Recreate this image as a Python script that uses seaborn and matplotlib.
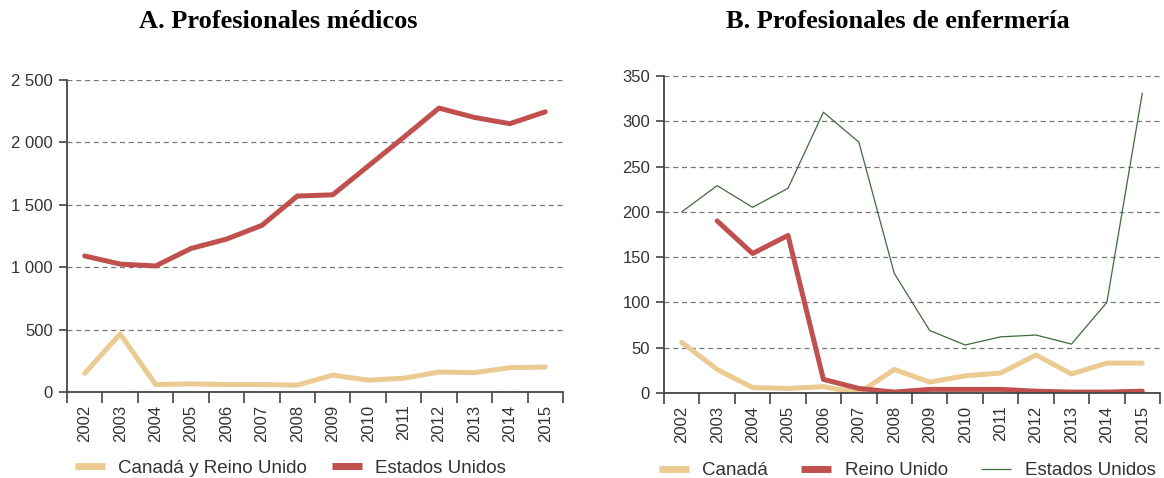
import numpy as np
import pandas as pd
import matplotlib
matplotlib.use("Agg")
import matplotlib.pyplot as plt
import seaborn as sns
from matplotlib.ticker import FuncFormatter, FixedLocator
from matplotlib.lines import Line2D

years = [str(y) for y in range(2002, 2016)]

# Panel A: Profesionales médicos
med_can_uk = [150, 465, 60, 65, 60, 60, 55, 135, 95, 110, 160, 155, 195, 200]
med_usa = [1090, 1025, 1010, 1150, 1225, 1335, 1570, 1580, 1810, 2040, 2275, 2200, 2150, 2245]

# Panel B: Profesionales de enfermería
nur_can = [56, 26, 6, 5, 7, 0, 26, 12, 19, 22, 42, 21, 33, 33]
nur_uk = [np.nan, 190, 154, 174, 15, 5, 1, 4, 4, 4, 2, 1, 1, 2]
nur_usa = [200, 229, 205, 226, 310, 277, 132, 69, 53, 62, 64, 54, 100, 331]

title_a = "A. Profesionales médicos"
title_b = "B. Profesionales de enfermería"

TAN = "#EBCB92"
RED = "#C0504D"
GREEN = "#3E6B3A"

sns.set_theme(style="white")
plt.rcParams['font.family'] = ['Liberation Sans', 'DejaVu Sans']

fig = plt.figure(figsize=(11.64, 4.78), dpi=100)
axA = fig.add_axes([67/1164, 1-392/478, (563-67)/1164, (392-80)/478])
axB = fig.add_axes([664/1164, 1-393/478, (1160-664)/1164, (393-76)/478])

idx = np.arange(len(years))

def thousands(v, pos):
    return f"{int(v):,}".replace(",", " ")

def style_axis(ax, ymax, ystep):
    ax.set_xlim(-0.5, len(years) - 0.5)
    ax.set_ylim(0, ymax)
    ax.set_yticks(np.arange(0, ymax + 1, ystep))
    ax.yaxis.set_major_formatter(FuncFormatter(thousands))
    ax.xaxis.set_major_locator(FixedLocator(np.arange(-0.5, len(years), 1.0)))
    ax.xaxis.set_major_formatter(FuncFormatter(lambda v, p: ""))
    ax.xaxis.set_minor_locator(FixedLocator(idx))
    ax.set_xticklabels(years, minor=True, rotation=90)
    ax.tick_params(axis="x", which="major", direction="out", length=8, width=1.2, color="#444444", bottom=True)
    ax.tick_params(axis="x", which="minor", length=0, pad=9, labelsize=12, labelcolor="#333333")
    ax.tick_params(axis="y", which="major", direction="out", length=6, width=1.2, color="#444444", left=True,
                   labelsize=12, labelcolor="#333333", pad=4)
    for s in ["top", "right"]:
        ax.spines[s].set_visible(False)
    for s in ["left", "bottom"]:
        ax.spines[s].set_color("#444444")
        ax.spines[s].set_linewidth(1.3)
    ax.yaxis.grid(True, linestyle=(0, (4, 3)), color="#777777", linewidth=0.9)
    ax.xaxis.grid(False)
    ax.set_axisbelow(True)
    ax.set_xlabel("")
    ax.set_ylabel("")

dfA = pd.DataFrame({"x": np.concatenate([idx, idx]),
                    "y": med_can_uk + med_usa,
                    "s": ["Canadá y Reino Unido"] * 14 + ["Estados Unidos"] * 14})
sns.lineplot(data=dfA, x="x", y="y", hue="s", palette=[TAN, RED], linewidth=3.6, ax=axA,
             legend=False)
style_axis(axA, 2500, 500)

dfB = pd.DataFrame({"x": np.concatenate([idx, idx, idx]),
                    "y": nur_can + nur_uk + nur_usa,
                    "s": ["Canadá"] * 14 + ["Reino Unido"] * 14 + ["Estados Unidos"] * 14})
sns.lineplot(data=dfB[dfB.s == "Canadá"], x="x", y="y", color=TAN, linewidth=3.6, ax=axB, legend=False)
sns.lineplot(data=dfB[dfB.s == "Reino Unido"].dropna(), x="x", y="y", color=RED, linewidth=3.6, ax=axB, legend=False)
sns.lineplot(data=dfB[dfB.s == "Estados Unidos"], x="x", y="y", color=GREEN, linewidth=0.9, ax=axB, legend=False)
style_axis(axB, 350, 50)

def handle(c, lw):
    return Line2D([], [], color=c, lw=lw, solid_capstyle="butt")

hA = [handle(TAN, 5), handle(RED, 5)]
axA.legend(hA, ["Canadá y Reino Unido", "Estados Unidos"], loc="center", bbox_to_anchor=(0.45, -0.245),
           ncol=2, frameon=False, fontsize=13.5, handlelength=1.6, handletextpad=0.7,
           columnspacing=1.35, labelcolor="#333333")
hB = [handle(TAN, 5), handle(RED, 5), handle(GREEN, 0.9)]
axB.legend(hB, ["Canadá", "Reino Unido", "Estados Unidos"], loc="center", bbox_to_anchor=(0.49, -0.245),
           ncol=3, frameon=False, fontsize=13.5, handlelength=1.6, handletextpad=0.7,
           columnspacing=1.8, labelcolor="#333333")

fig.text(278/1164, 1-22/478, title_a, ha="center", va="center", fontsize=19, fontweight="bold",
         color="black", family=["Liberation Serif", "DejaVu Serif"])
fig.text(898/1164, 1-22/478, title_b, ha="center", va="center", fontsize=19, fontweight="bold",
         color="black", family=["Liberation Serif", "DejaVu Serif"])

fig.savefig("out.png", dpi=100, facecolor="white")
